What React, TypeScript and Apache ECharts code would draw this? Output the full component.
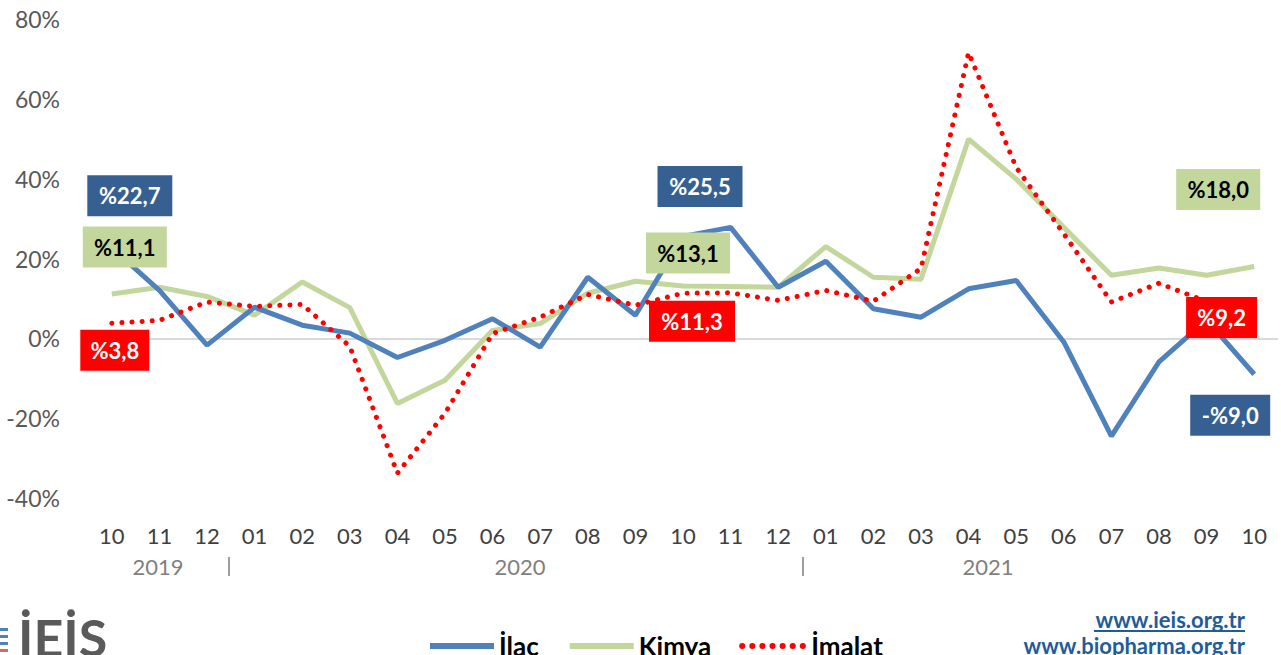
import React, { useEffect, useRef } from "react";
import * as echarts from "echarts";

const months = ["10","11","12","01","02","03","04","05","06","07","08","09","10","11","12","01","02","03","04","05","06","07","08","09","10"];
const yearLabels = ["2019", "2020", "2021"];
const ilac = [22.7, 12.0, -1.7, 7.8, 3.3, 1.3, -4.8, -0.5, 4.9, -2.2, 15.3, 5.8, 25.5, 27.8, 12.8, 19.3, 7.4, 5.3, 12.4, 14.5, -0.9, -24.5, -5.9, 4.6, -9.0];
const kimya = [11.1, 12.8, 10.5, 5.8, 14.1, 7.7, -16.3, -10.5, 2.0, 3.7, 11.3, 14.3, 13.1, 13.0, 12.8, 23.0, 15.3, 14.8, 49.9, 39.9, 27.8, 15.8, 17.6, 15.8, 18.0];
const imalat = [3.8, 4.5, 9.1, 8.0, 8.5, -2.0, -33.8, -18.8, 1.2, 5.3, 11.0, 8.3, 11.3, 11.4, 9.5, 12.0, 9.3, 17.5, 71.6, 42.8, 26.2, 9.1, 13.8, 9.2, null];

// annotated points: [index, boxWidth, offsetX, offsetY]
const ilacLabels = [[0, 85, 18, -52], [12, 85, 17, -50], [24, 80, -24, 41]];
const kimyaLabels = [[0, 84, 13, -47], [12, 84, 5, -33], [24, 84, -36, -77]];
const imalatLabels = [[0, 69, 3, 27], [12, 86, 9, 28], [23, 71, 15, 16]];

const FONT = "Lato, 'Open Sans', sans-serif";

function fmt(v: number) {
  const s = Math.abs(v).toFixed(1).replace(".", ",");
  return (v < 0 ? "-%" : "%") + s;
}

function marks(values: (number | null)[], defs: number[][], bg: string, fg: string) {
  return {
    silent: true,
    symbol: "rect",
    data: defs.map(([i, w, dx, dy]) => ({
      coord: [i, values[i]],
      symbolSize: [w, 41],
      symbolOffset: [dx, dy],
      itemStyle: { color: bg },
      label: {
        show: true,
        position: "inside",
        formatter: fmt(values[i] as number),
        color: fg,
        fontSize: 22,
        fontWeight: "bold",
        fontFamily: FONT,
      },
    })),
  };
}

export default function App() {
  const ref = useRef<HTMLDivElement>(null);
  useEffect(() => {
    if (!ref.current) return;
    const chart = echarts.init(ref.current, null, { renderer: "svg" });
    chart.setOption({
      animation: false,
      backgroundColor: "#ffffff",
      grid: { left: 88, right: 3, top: 19, bottom: 157, containLabel: false },
      xAxis: {
        type: "category",
        data: months,
        boundaryGap: true,
        axisLine: { show: false, onZero: false },
        axisTick: { show: false },
        axisLabel: { margin: 26, fontSize: 22, color: "#404040", fontFamily: FONT, interval: 0 },
      },
      yAxis: {
        type: "value",
        min: -40,
        max: 80,
        interval: 20,
        axisLine: { show: false },
        axisTick: { show: false },
        axisLabel: { formatter: "{value}%", fontSize: 23, color: "#595959", margin: 28, fontFamily: FONT },
        splitLine: {
          show: true,
          lineStyle: {
            color: ["rgba(0,0,0,0)", "rgba(0,0,0,0)", "#d9d9d9", "rgba(0,0,0,0)", "rgba(0,0,0,0)", "rgba(0,0,0,0)", "rgba(0,0,0,0)"],
            width: 2,
          },
        },
      },
      legend: {
        left: 422,
        top: 628,
        itemWidth: 64,
        itemHeight: 14,
        itemGap: 28,
        itemStyle: { opacity: 0 },
        lineStyle: { width: 6 },
        textStyle: { fontSize: 26, fontWeight: "bold", color: "#000000", fontFamily: FONT },
        data: ["İlaç", "Kimya", "İmalat"],
      },
      series: [
        {
          name: "İlaç",
          type: "line",
          data: ilac,
          symbol: "none",
          showSymbol: false,
          z: 3,
          color: "#4f81bd",
          lineStyle: { color: "#4f81bd", width: 5 },
          markPoint: marks(ilac, ilacLabels, "#376092", "#ffffff"),
        },
        {
          name: "Kimya",
          type: "line",
          data: kimya,
          symbol: "none",
          showSymbol: false,
          z: 2,
          color: "#c3d69b",
          lineStyle: { color: "#c3d69b", width: 5 },
          markPoint: marks(kimya, kimyaLabels, "#c3d69b", "#000000"),
        },
        {
          name: "İmalat",
          type: "line",
          data: imalat,
          symbol: "none",
          showSymbol: false,
          connectNulls: false,
          z: 4,
          color: "#ff0000",
          lineStyle: { color: "#ff0000", width: 5, type: [0.1, 10], cap: "round" },
          markPoint: marks(imalat, imalatLabels, "#ff0000", "#ffffff"),
        },
      ],
      graphic: [
        { type: "text", x: 158, y: 566, style: { text: yearLabels[0], fill: "#7f7f7f", font: `22px ${FONT}`, textAlign: "center", textVerticalAlign: "middle" } },
        { type: "text", x: 520, y: 566, style: { text: yearLabels[1], fill: "#7f7f7f", font: `22px ${FONT}`, textAlign: "center", textVerticalAlign: "middle" } },
        { type: "text", x: 988, y: 566, style: { text: yearLabels[2], fill: "#7f7f7f", font: `22px ${FONT}`, textAlign: "center", textVerticalAlign: "middle" } },
        { type: "line", shape: { x1: 229, y1: 557, x2: 229, y2: 576 }, style: { stroke: "#7f7f7f", lineWidth: 1.5 } },
        { type: "line", shape: { x1: 803, y1: 557, x2: 803, y2: 576 }, style: { stroke: "#7f7f7f", lineWidth: 1.5 } },
        { type: "text", x: 18, y: 611, style: { text: "İEİS", fill: "#5a5a5a", font: `bold 52px ${FONT}`, textAlign: "left", textVerticalAlign: "top" } },
        { type: "rect", shape: { x: 0, y: 628, width: 8, height: 3 }, style: { fill: "#4f81bd" } },
        { type: "rect", shape: { x: 0, y: 635, width: 8, height: 3 }, style: { fill: "#4f81bd" } },
        { type: "rect", shape: { x: 0, y: 642, width: 8, height: 3 }, style: { fill: "#4f81bd" } },
        { type: "rect", shape: { x: 0, y: 649, width: 8, height: 3 }, style: { fill: "#e06666" } },
        { type: "text", x: 1245, y: 619, style: { text: "www.ieis.org.tr", fill: "#1f5c99", font: `bold 22px ${FONT}`, textAlign: "right", textVerticalAlign: "middle" } },
        { type: "line", shape: { x1: 1094, y1: 631, x2: 1245, y2: 631 }, style: { stroke: "#1f5c99", lineWidth: 2 } },
        { type: "text", x: 1245, y: 645, style: { text: "www.biopharma.org.tr", fill: "#1f5c99", font: `bold 22px ${FONT}`, textAlign: "right", textVerticalAlign: "middle" } },
      ],
    });
    return () => chart.dispose();
  }, []);
  return <div ref={ref} style={{ position: "fixed", left: 0, top: 0, width: 1281, height: 655, background: "#fff" }} />;
}
